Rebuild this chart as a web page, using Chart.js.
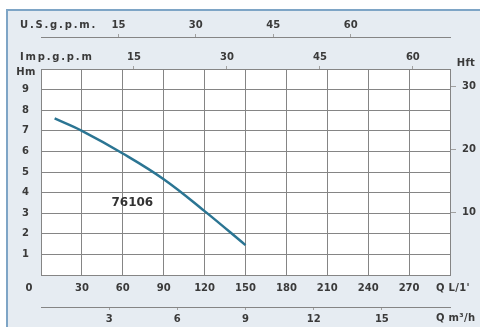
<!DOCTYPE html>
<html>
<head>
<meta charset="utf-8">
<script src="https://cdn.jsdelivr.net/npm/chart.js@4/dist/chart.umd.min.js"></script>
<style>
  html, body { margin: 0; padding: 0; background: #fff; }
  #wrap { width: 480px; height: 327px; position: relative; }
</style>
</head>
<body>
<div id="wrap"><canvas id="c"></canvas></div>
<script>
// Pump model and its head curve: flow in litres per minute, head in metres
const pumpModel = '76106';
const flowLpm = [10, 30, 60, 90, 120, 150];
const headM = [7.6, 7.0, 5.9, 4.65, 3.1, 1.45];

// Tick labels of each axis
const lpmTicks = [30, 60, 90, 120, 150, 180, 210, 240, 270];
const m3hTicks = [3, 6, 9, 12, 15];
const usGpmTicks = [15, 30, 45, 60];
const impGpmTicks = [15, 30, 45, 60];
const hmTicks = [1, 2, 3, 4, 5, 6, 7, 8, 9];
const hftTicks = [10, 20, 30];

// Axis ranges and unit conversions
const Q_MAX = 300;          // L/min
const H_MAX = 10;           // m
const L_PER_US_GAL = 3.78541;
const L_PER_IMP_GAL = 4.54609;
const LPM_PER_M3H = 1000 / 60;
const FT_PER_M = 3.28084;

const TEXT = '#3a3a3a';
const GRID = '#858585';
const tickFont = { family: 'DejaVu Sans', size: 10, weight: 'bold' };

const setTicks = values => scale => { scale.ticks = values.map(v => ({ value: v })); };

// secondary axis: only tick marks and labels, no grid inside the plot
function sideAxis(position, max, values, weight, extra) {
  return Object.assign({
    type: 'linear', position, min: 0, max, weight,
    afterBuildTicks: setTicks(values),
    grid: { drawOnChartArea: false, drawTicks: true, tickLength: 3, color: '#a0a0a0' },
    border: { display: true, color: GRID },
    ticks: { color: TEXT, font: tickFont, padding: 3, autoSkip: false, maxRotation: 0 }
  }, extra || {});
}

const decor = {
  id: 'decor',
  beforeDraw(chart) {
    const { ctx, chartArea: a, width: W, height: H } = chart;
    ctx.save();
    ctx.fillStyle = '#ffffff';
    ctx.fillRect(0, 0, W, H);
    ctx.fillStyle = '#e6ecf2';
    ctx.fillRect(7, 9, W - 7, H - 9);
    ctx.strokeStyle = '#7ea5c6';
    ctx.lineWidth = 2;
    ctx.beginPath();
    ctx.moveTo(7, H); ctx.lineTo(7, 10); ctx.lineTo(W, 10);
    ctx.stroke();
    ctx.fillStyle = '#ffffff';
    ctx.fillRect(a.left, a.top, a.right - a.left, a.bottom - a.top);
    ctx.restore();
  },
  afterDraw(chart) {
    const { ctx, scales } = chart;
    const x = scales.x, y = scales.y;
    ctx.save();
    ctx.fillStyle = TEXT;
    ctx.textBaseline = 'middle';
    ctx.font = 'bold 10px "DejaVu Sans"';

    // axis unit captions
    ctx.letterSpacing = '1.8px';
    ctx.textAlign = 'left';
    ctx.fillText('U.S.g.p.m.', 20, scales.xus.bottom - 12);
    ctx.fillText('Imp.g.p.m', 20, scales.ximp.bottom - 12);
    ctx.letterSpacing = '0.3px';
    ctx.fillText("Q L/1'", 436, x.top + 13);
    ctx.fillText('Q m\u00B3/h', 436, scales.xm3.top + 11);
    ctx.textAlign = 'center';
    ctx.fillText('Hm', 26, y.top + 3);
    ctx.fillText('Hft', 466, y.top - 6);
    ctx.letterSpacing = '0px';
    ctx.fillText('0', 29, x.top + 13);

    // model name beside the curve
    ctx.font = 'bold 12px "DejaVu Sans"';
    ctx.fillStyle = '#333333';
    ctx.fillText(pumpModel, x.getPixelForValue(67), y.getPixelForValue(3.5));
    ctx.restore();
  }
};

new Chart(document.getElementById('c'), {
  type: 'line',
  data: {
    datasets: [{
      label: pumpModel,
      data: flowLpm.map((q, i) => ({ x: q, y: headM[i] })),
      borderColor: '#2b7593',
      borderWidth: 2.5,
      pointRadius: 0,
      tension: 0.4,
      fill: false
    }]
  },
  options: {
    responsive: true,
    maintainAspectRatio: false,
    animation: false,
    layout: { padding: { top: 12, left: 8, right: 0, bottom: 0 } },
    plugins: { legend: { display: false }, tooltip: { enabled: false } },
    scales: {
      x: {
        type: 'linear', position: 'bottom', min: 0, max: Q_MAX, weight: 0,
        afterBuildTicks: setTicks([0].concat(lpmTicks, [Q_MAX])),
        afterFit: s => { s.height = 32; },
        grid: { color: GRID, drawTicks: false },
        border: { color: GRID },
        ticks: {
          color: TEXT, font: tickFont, padding: 7, autoSkip: false, maxRotation: 0,
          callback: v => (lpmTicks.includes(v) ? String(v) : '')
        }
      },
      xm3: sideAxis('bottom', Q_MAX / LPM_PER_M3H, m3hTicks, 1, {
        afterFit: s => { s.height = 20; }
      }),
      ximp: sideAxis('top', Q_MAX / L_PER_IMP_GAL, impGpmTicks, 0, {
        afterFit: s => { s.height = 32; }
      }),
      xus: sideAxis('top', Q_MAX / L_PER_US_GAL, usGpmTicks, 1, {
        afterFit: s => { s.height = 25; }
      }),
      y: {
        type: 'linear', position: 'left', min: 0, max: H_MAX,
        afterBuildTicks: setTicks([0].concat(hmTicks, [H_MAX])),
        afterFit: s => { s.width = 33; },
        grid: { color: GRID, drawTicks: false },
        border: { color: GRID },
        ticks: {
          color: TEXT, font: tickFont, padding: 12,
          callback: v => (hmTicks.includes(v) ? String(v) : '')
        }
      },
      yft: sideAxis('right', H_MAX * FT_PER_M, hftTicks, 0, {
        afterFit: s => { s.width = 30; },
        grid: { drawOnChartArea: false, drawTicks: true, tickLength: 6, color: '#a0a0a0' },
        ticks: { color: TEXT, font: tickFont, padding: 6 }
      })
    }
  },
  plugins: [decor]
});
</script>
</body>
</html>
